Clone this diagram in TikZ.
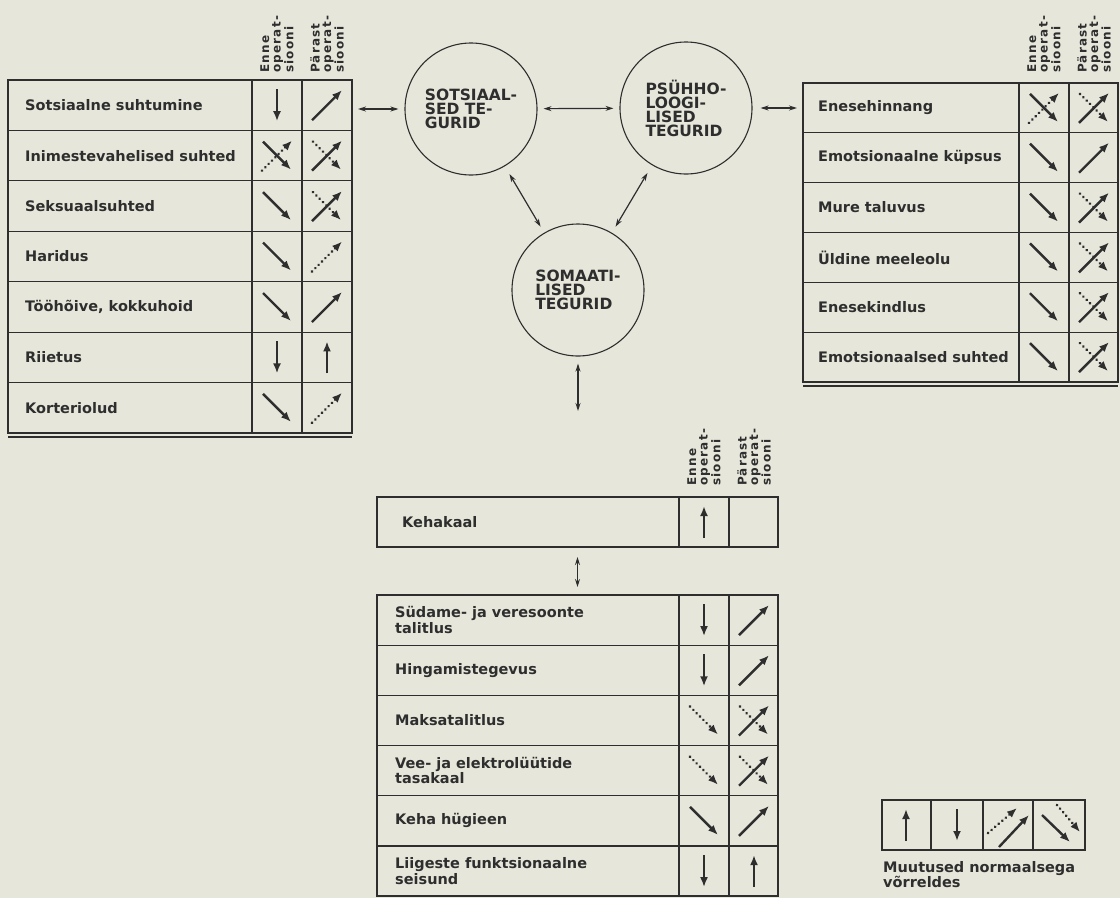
\documentclass[tikz,border=0pt]{standalone}
\usepackage{fontspec}
\setmainfont{DejaVu Sans}
\newfontfamily\hdrfont[LetterSpace=10]{DejaVu Sans}
\usetikzlibrary{arrows.meta}
\definecolor{ink}{HTML}{2E2E2E}
\definecolor{paper}{HTML}{E6E6DA}
\tikzset{
  pics/adn/.style={code={\draw[sarr] (0,-16) -- (0,16);}},
  pics/aup/.style={code={\draw[sarr] (0,16) -- (0,-16);}},
  pics/adr/.style={code={\draw[sarr] (-14,-14) -- (14,14);}},
  pics/aur/.style={code={\draw[sarr] (-15,15) -- (15,-15);}},
  pics/ddr/.style={code={\draw[darr] (-14,-14) -- (14,14);}},
  pics/dur/.style={code={\draw[darr] (-15,15) -- (15,-15);}},
}
\begin{document}
\begin{tikzpicture}[x=1pt,y=-1pt,
  inkline/.style={draw=ink,line width=1.1pt},
  tbl/.style={draw=ink,line width=1.1pt,anchor=north west,inner sep=0pt,outer sep=0pt},
  lbl/.style={anchor=west,font=\bfseries\fontsize{14.5}{15.5}\selectfont,text=ink,align=left,inner sep=0pt},
  hdr/.style={rotate=90,anchor=west,align=left,font=\hdrfont\bfseries\fontsize{12}{11.5}\selectfont,text=ink,inner sep=0pt},
  circ/.style={circle,draw=ink,line width=1.1pt,minimum size=132pt,inner sep=0pt,align=left,font=\bfseries\fontsize{15.5}{14}\selectfont,text=ink},
  conn/.style={draw=ink,line width=1.2pt,{Stealth[length=8pt,width=5pt]}-{Stealth[length=8pt,width=5pt]}},
  sarr/.style={draw=ink,line width=2.4pt,-{Latex[length=10pt,width=8pt]}},
  darr/.style={draw=ink,line width=2.9pt,line cap=round,dash pattern=on 0.1pt off 4.6pt,-{Latex[length=10pt,width=8pt,line cap=butt]}},
]
\useasboundingbox (0,0) rectangle (1120,898);
\fill[paper] (0,0) rectangle (1120,898);

% ---------- left table ----------
\node[tbl,minimum width=344pt,minimum height=353pt] (lt) at (8,80) {};
\draw[inkline] (252,80) -- (252,433) (302,80) -- (302,433);
\foreach \k in {1,...,6} \draw[inkline] (8,{80+50.43*\k}) -- (352,{80+50.43*\k});
\draw[draw=ink,line width=1.6pt] (8,437) -- (352,437);
\node[hdr] (lh1) at (277,73) {Enne\\operat-\\siooni};
\node[hdr] (lh2) at (327,73) {Pärast\\operat-\\siooni};
\foreach \t [count=\k] in {Sotsiaalne suhtumine,Inimestevahelised suhted,Seksuaalsuhted,Haridus,{Tööhõive, kokkuhoid},Riietus,Korteriolud}
  \node[lbl] (l\k) at (25,{80+50.43*(\k-0.5)}) {\t};
\pic at (277,105.2) {adn};   \pic at (327,105.2) {aur};
\pic at (277,155.6) {adr};   \pic at (277,155.6) {dur};
\pic at (327,155.6) {aur};   \pic at (327,155.6) {ddr};
\pic at (277,206.1) {adr};   \pic at (327,206.1) {aur}; \pic at (327,206.1) {ddr};
\pic at (277,256.5) {adr};   \pic at (327,256.5) {dur};
\pic at (277,307.0) {adr};   \pic at (327,307.0) {aur};
\pic at (277,357.4) {adn};   \pic at (327,357.4) {aup};
\pic at (277,407.8) {adr};   \pic at (327,407.8) {dur};

% ---------- right table ----------
\node[tbl,minimum width=315pt,minimum height=299pt] (rt) at (803,83) {};
\draw[inkline] (1019,83) -- (1019,382) (1069,83) -- (1069,382);
\foreach \k in {1,...,5} \draw[inkline] (803,{83+49.83*\k}) -- (1118,{83+49.83*\k});
\draw[draw=ink,line width=1.6pt] (803,386) -- (1118,386);
\node[hdr] (rh1) at (1044,73) {Enne\\operat-\\siooni};
\node[hdr] (rh2) at (1094,73) {Pärast\\operat-\\siooni};
\foreach \t [count=\k] in {Enesehinnang,Emotsionaalne küpsus,Mure taluvus,Üldine meeleolu,Enesekindlus,Emotsionaalsed suhted}
  \node[lbl] (r\k) at (818,{83+49.83*(\k-0.5)}) {\t};
\pic at (1044,107.9) {adr}; \pic at (1044,107.9) {dur};
\pic at (1094,107.9) {aur}; \pic at (1094,107.9) {ddr};
\pic at (1044,157.7) {adr}; \pic at (1094,157.7) {aur};
\foreach \yy in {207.6,257.4,307.2,357.1} {
  \pic at (1044,\yy) {adr}; \pic at (1094,\yy) {aur}; \pic at (1094,\yy) {ddr};
}

% ---------- circles ----------
\node[circ] (c1) at (471,109) {SOTSIAAL-\\SED TE-\\GURID};
\node[circ] (c2) at (686,108) {PSÜHHO-\\LOOGI-\\LISED\\TEGURID};
\node[circ] (c3) at (578,290) {SOMAATI-\\LISED\\TEGURID};

% ---------- Kehakaal ----------
\node[tbl,minimum width=401pt,minimum height=50pt] (kk) at (377,497) {};
\draw[inkline] (679,497) -- (679,547) (729,497) -- (729,547);
\node[hdr] (bh1) at (704,486) {Enne\\operat-\\siooni};
\node[hdr] (bh2) at (754,486) {Pärast\\operat-\\siooni};
\node[lbl] (k1) at (402,522) {Kehakaal};
\pic at (704,522) {aup};

% ---------- lower table ----------
\node[tbl,minimum width=401pt,minimum height=301pt] (bt) at (377,595) {};
\draw[inkline] (679,595) -- (679,896) (729,595) -- (729,896);
\foreach \k in {1,...,5} \draw[inkline] (377,{595+50.2*\k}) -- (778,{595+50.2*\k});
\foreach \t [count=\k] in {{Südame- ja veresoonte\\talitlus},Hingamistegevus,Maksatalitlus,{Vee- ja elektrolüütide\\tasakaal},Keha hügieen,{Liigeste funktsionaalne\\seisund}}
  \node[lbl] (b\k) at (395,{595+50.2*(\k-0.5)}) {\t};
\pic at (704,620.1) {adn}; \pic at (754,620.1) {aur};
\pic at (704,670.3) {adn}; \pic at (754,670.3) {aur};
\pic at (704,720.5) {ddr}; \pic at (754,720.5) {aur}; \pic at (754,720.5) {ddr};
\pic at (704,770.7) {ddr}; \pic at (754,770.7) {aur}; \pic at (754,770.7) {ddr};
\pic at (704,820.9) {adr}; \pic at (754,820.9) {aur};
\pic at (704,871.1) {adn}; \pic at (754,871.1) {aup};

% ---------- connectors ----------
\draw[conn,shorten <=6pt,shorten >=6pt] (lt.east |- c1) -- (c1);
\draw[conn,shorten <=6pt,shorten >=6pt] (c1) -- (c2);
\draw[conn,shorten <=8pt,shorten >=6pt] (c2) -- (rt.west |- c2);
\draw[conn,shorten <=9pt,shorten >=7pt] (c1) -- (c3);
\draw[conn,shorten <=9pt,shorten >=7pt] (c2) -- (c3);
\coordinate (c3end) at (578,411);
\draw[conn,shorten <=7pt] (c3) -- (c3end);
\draw[conn,shorten <=10pt,shorten >=8pt] (kk.south) -- (bt.north);

% ---------- legend ----------
\node[tbl,minimum width=203pt,minimum height=50pt] (lg) at (882,800) {};
\draw[inkline] (931,800) -- (931,850) (983,800) -- (983,850) (1033,800) -- (1033,850);
\pic at (906,825) {aup};
\pic at (957,825) {adn};
\draw[darr] (988,833) -- (1017,808);
\draw[sarr] (999,847) -- (1029,815);
\draw[sarr] (1042,815) -- (1070,842);
\draw[darr] (1057,805) -- (1080,832);
\node[lbl,anchor=north west,font=\bfseries\fontsize{14.5}{13.5}\selectfont] (lgt) at (883,861) {Muutused normaalsega\\võrreldes};
\end{tikzpicture}
\end{document}
